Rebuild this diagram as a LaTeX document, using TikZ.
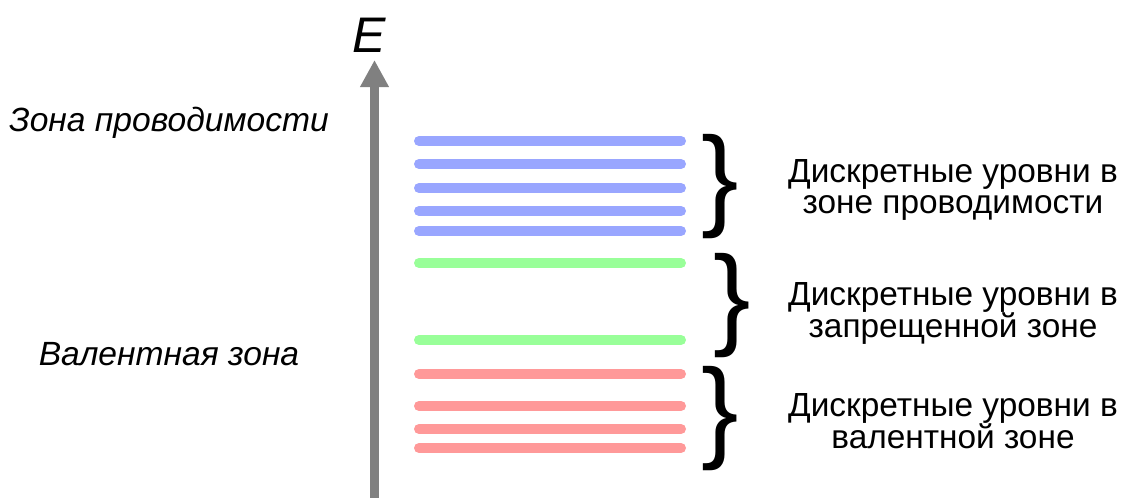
\documentclass[tikz,border=0pt]{standalone}
\usepackage{fontspec}
\setmainfont{Liberation Sans}
\usetikzlibrary{arrows.meta}
\definecolor{lvlblue}{RGB}{153,166,255}
\definecolor{lvlgreen}{RGB}{153,255,153}
\definecolor{lvlred}{RGB}{255,153,153}
\definecolor{axisgray}{RGB}{128,128,128}
\tikzset{
  level/.style={line width=10pt, line cap=round},
  zonelabel/.style={font=\fontsize{33.6}{33.6}\selectfont\itshape, anchor=base, inner sep=0pt},
  desclabel/.style={font=\fontsize{33.4}{33.4}\selectfont, anchor=base, inner sep=0pt},
  bracenode/.style={font=\fontsize{112}{112}\selectfont, anchor=base, inner sep=0pt},
}
\begin{document}
\begin{tikzpicture}[x=1pt,y=-1pt]
\useasboundingbox (0,0) rectangle (1125,498);
% axis
\coordinate (axisbot) at (374.5,498);
\coordinate (axistop) at (374.5,60);
\draw[axisgray, line width=9pt, -{Triangle[length=27pt,width=27pt]}] (axisbot) -- (axistop);
\node[zonelabel, font=\fontsize{50}{50}\selectfont\itshape] (E) at (369,52) {E};
% zone labels
\node[zonelabel] (cond) at (169,131) {Зона проводимости};
\node[zonelabel] (val) at (169,365) {Валентная зона};
% levels
\foreach \y [count=\i] in {141,164,188,211,231}
  \draw[level, lvlblue] (419,\y) coordinate (b\i s) -- (681,\y) coordinate (b\i e);
\foreach \y [count=\i] in {263,340}
  \draw[level, lvlgreen] (419,\y) coordinate (g\i s) -- (681,\y) coordinate (g\i e);
\foreach \y [count=\i] in {374,406,429,448}
  \draw[level, lvlred] (419,\y) coordinate (r\i s) -- (681,\y) coordinate (r\i e);
% braces
\node[bracenode] (br1) at (720,215) {\}};
\node[bracenode] (br2) at (732,334) {\}};
\node[bracenode] (br3) at (720,447) {\}};
% descriptions
\node[desclabel] (d1a) at (953,182) {Дискретные уровни в};
\node[desclabel] (d1b) at (953,213) {зоне проводимости};
\node[desclabel] (d2a) at (953,305) {Дискретные уровни в};
\node[desclabel] (d2b) at (953,337) {запрещенной зоне};
\node[desclabel] (d3a) at (953,416) {Дискретные уровни в};
\node[desclabel] (d3b) at (953,448) {валентной зоне};
\end{tikzpicture}
\end{document}
